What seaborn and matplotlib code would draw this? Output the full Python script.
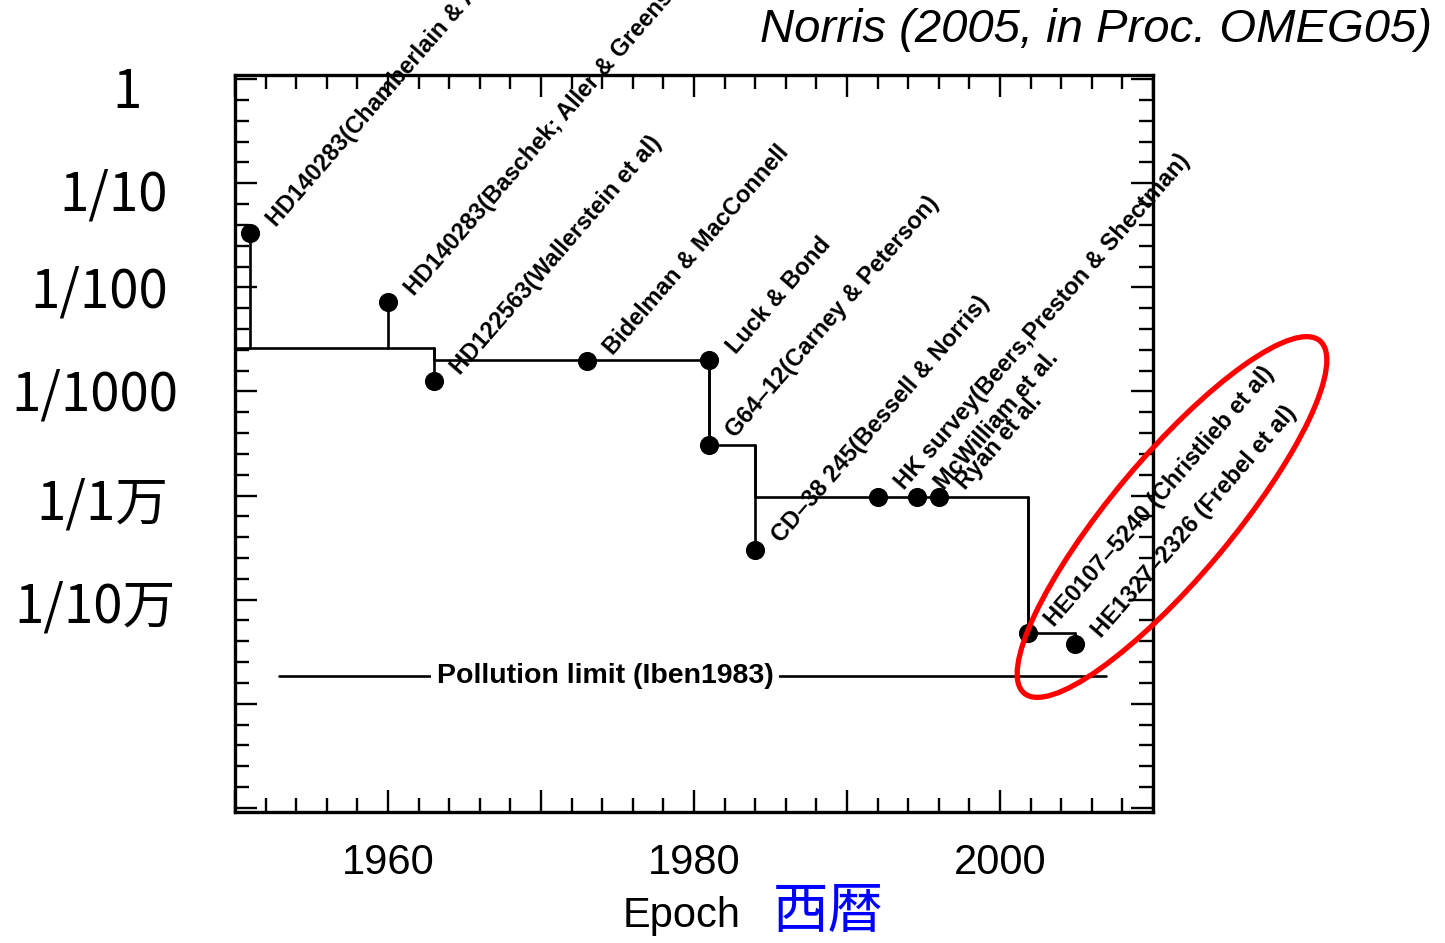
import numpy as np
import pandas as pd
import matplotlib
matplotlib.use("Agg")
import matplotlib.pyplot as plt
import seaborn as sns
from matplotlib.patches import Ellipse
from matplotlib.ticker import MultipleLocator, FuncFormatter

# ---------------- data ----------------
star_years = [1951, 1960, 1963, 1973, 1981, 1981, 1984, 1992, 1994.6, 1996, 2001.8, 2004.9]
star_feh = [-1.48, -2.14, -2.90, -2.71, -2.70, -3.51, -4.52, -4.01, -4.01, -4.01, -5.32, -5.43]
star_names = [
    "HD140283(Chamberlain & Aller)",
    "HD140283(Baschek; Aller & Greenstein)",
    "HD122563(Wallerstein et al)",
    "Bidelman & MacConnell",
    "Luck & Bond",
    "G64–12(Carney & Peterson)",
    "CD–38 245(Bessell & Norris)",
    "HK survey(Beers,Preston & Shectman)",
    "McWilliam et al.",
    "Ryan et al.",
    "HE0107–5240 (Christlieb et al)",
    "HE1327–2326 (Frebel et al)",
]
record_years = [1950, 1963, 1981, 1984, 2001.8, 2004.9]
record_feh = [-2.58, -2.70, -3.51, -4.01, -5.32, -5.32]

pollution_feh = -5.73
pollution_years = [1952.9, 2006.9]
pollution_text = "Pollution limit (Iben1983)"
pollution_text_year = 1974.2

xtick_years = [1960, 1980, 2000]
ylabels = ["1", "1/10", "1/100", "1/1000", "1/1万", "1/10万"]

title = "Norris (2005, in Proc. OMEG05)"
xlabel_en = "Epoch"
xlabel_ja = "西暦"

# ---------------- style ----------------
sns.set_theme(style="ticks")
plt.rcParams["font.family"] = ["Liberation Sans", "Noto Sans CJK JP", "DejaVu Sans"]
plt.rcParams["text.color"] = "black"
plt.rcParams["axes.labelcolor"] = "black"
plt.rcParams["xtick.color"] = "black"
plt.rcParams["ytick.color"] = "black"

W, H = 1445, 943
fig = plt.figure(figsize=(W / 100, H / 100), dpi=100)
ax = fig.add_axes([235 / W, 1 - 812 / H, (1153 - 235) / W, (812 - 75) / H])

ax.set_xlim(1950, 2010)
ax.set_ylim(-7.04, 0.04)

# record (step) line
ax.plot(record_years, record_feh, drawstyle="steps-post", color="black", lw=1.9, zorder=2)

# stems from record line to each star
def record_before(yr):
    lvl = record_feh[0]
    for ry, rf in zip(record_years, record_feh):
        if ry < yr - 1e-9:
            lvl = rf
    return lvl

for yr, fe in zip(star_years, star_feh):
    base = record_before(yr)
    ax.plot([yr, yr], [base, fe], color="black", lw=1.9, zorder=2)

df = pd.DataFrame({"year": star_years, "feh": star_feh, "name": star_names})
sns.scatterplot(data=df, x="year", y="feh", ax=ax, s=190, color="black",
                edgecolor="black", linewidth=0, zorder=3, legend=False)

for yr, fe, nm in zip(star_years, star_feh, star_names):
    ax.annotate(nm, (yr, fe), xytext=(19, 4), textcoords="offset points",
                rotation=49, rotation_mode="anchor", ha="left", va="baseline",
                fontsize=17, fontweight="bold", color="black",
                annotation_clip=False, zorder=5)

# pollution limit
ax.plot(pollution_years, [pollution_feh, pollution_feh], color="black", lw=1.9, zorder=2)
ax.text(pollution_text_year, pollution_feh, pollution_text, ha="center", va="center",
        fontsize=20.5, fontweight="bold", zorder=4, color="black",
        bbox=dict(facecolor="white", edgecolor="none", pad=4))

# ticks
ax.xaxis.set_major_locator(MultipleLocator(10))
ax.xaxis.set_minor_locator(MultipleLocator(2))
ax.yaxis.set_major_locator(MultipleLocator(1))
ax.yaxis.set_minor_locator(MultipleLocator(0.2))
ax.xaxis.set_major_formatter(FuncFormatter(lambda v, p: f"{int(round(v))}" if int(round(v)) in xtick_years else ""))
ax.tick_params(which="both", direction="in", top=True, right=True, left=True, bottom=True,
               color="black", width=1.7)
ax.tick_params(which="major", length=16)
ax.tick_params(which="minor", length=10)
ax.tick_params(axis="x", which="major", labelsize=30, pad=22, labelcolor="black")
ax.tick_params(axis="y", labelleft=False)
for sp in ax.spines.values():
    sp.set_linewidth(2.4)
    sp.set_color("black")
ax.set_xlabel("")
ax.set_ylabel("")

# y labels (fractions)
label_right_px = [142, 168, 168, 178, 168, 176]
label_center_px = [93, 195, 292, 395, 504, 607]
for lab, xr, yc in zip(ylabels, label_right_px, label_center_px):
    fig.text(xr / W, 1 - yc / H, lab, ha="right", va="center", fontsize=38,
             family=["Noto Sans CJK JP", "DejaVu Sans"], color="black")

# x labels
fig.text(623 / W, 1 - 927 / H, xlabel_en, ha="left", va="baseline", fontsize=30, color="black")
fig.text(773 / W, 1.5 / H, xlabel_ja, ha="left", va="bottom", fontsize=40,
         color="#0000ff", family=["Noto Sans CJK JP", "DejaVu Sans"])

# title
fig.text(1432 / W, 1 - 30 / H, title, ha="right", va="center", fontsize=34,
         style="italic", color="black")

# red ellipse highlight
fig.add_artist(Ellipse((1172 / 100, (H - 517) / 100), width=4.6, height=1.2, angle=50,
                       transform=fig.dpi_scale_trans, fill=False,
                       edgecolor="#ff0000", lw=3.8, zorder=10))

fig.savefig("out.png", dpi=100)
